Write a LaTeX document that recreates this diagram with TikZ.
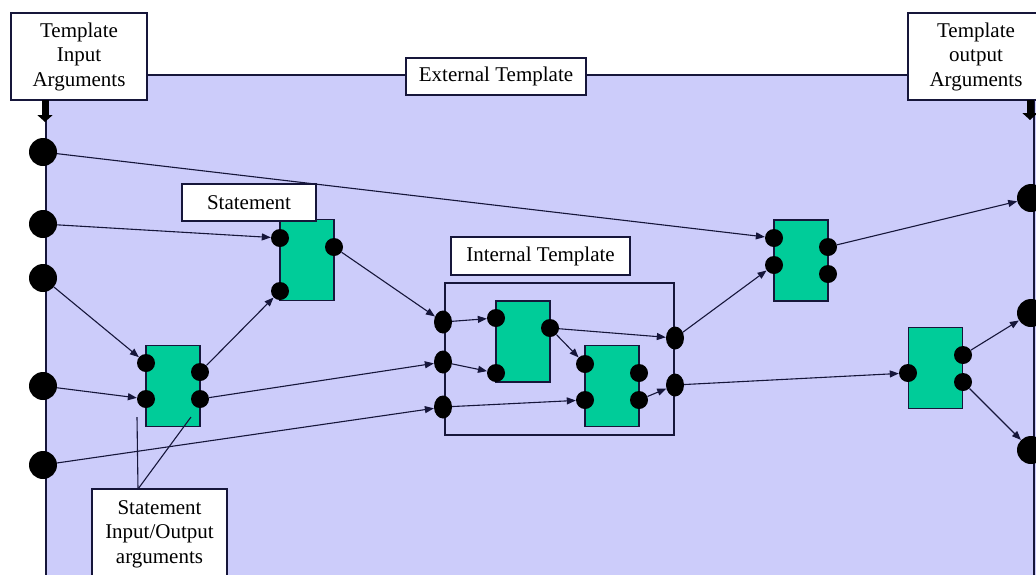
\documentclass[tikz,border=0pt]{standalone}
\usepackage{fontspec}
\setmainfont{Liberation Serif}
\usetikzlibrary{arrows.meta,shapes.geometric}
\definecolor{bgfill}{RGB}{204,204,250}
\definecolor{stmtgreen}{RGB}{0,204,153}
\definecolor{ink}{RGB}{22,22,58}
\tikzset{
  tag/.style={draw=ink, line width=1.2pt, fill=white, align=center,
    font=\fontsize{21}{24.5}\selectfont, inner sep=0pt},
  stmt/.style={draw=ink, line width=1.2pt, fill=stmtgreen, minimum width=54pt,
    minimum height=81pt, inner sep=0pt},
  port/.style={circle, fill=black, draw=none, minimum size=18pt, inner sep=0pt},
  gate/.style={ellipse, fill=black, draw=none, minimum width=18pt, minimum height=23pt, inner sep=0pt},
  bigdot/.style={circle, fill=black, draw=none, minimum size=28pt, inner sep=0pt},
  conn/.style={draw=ink, line width=1.1pt, -{Triangle[length=9pt,width=7pt]}},
  feed/.style={draw=black, line width=7pt, -{Triangle[length=7pt,width=15pt]}},
  callout/.style={draw=ink, line width=1.1pt},
}
\begin{document}
\begin{tikzpicture}[x=1pt,y=-1pt]
\useasboundingbox (0,0) rectangle (1036,574);
\clip (0,0) rectangle (1036,574);

% external template area
\fill[bgfill] (46,75) rectangle (1040,580);
\draw[ink, line width=1.3pt] (46,580) -- (46,75) -- (1034,75) -- (1034,580);

% internal template frame
\draw[ink, line width=1.2pt] (445,283) rectangle (674,435);

% statements
\node[stmt] (s1) at (307,260) {};
\node[stmt] (s2) at (173,386) {};
\node[stmt] (s3) at (523,341.5) {};
\node[stmt] (s4) at (612,386) {};
\node[stmt] (s5) at (801,260.5) {};
\node[stmt] (s6) at (935.5,368) {};

% statement ports
\node[port] (sA) at (280,238) {};
\node[port] (sB) at (280,291) {};
\node[port] (sC) at (334,247) {};
\node[port] (lA) at (146,363) {};
\node[port] (lB) at (146,399) {};
\node[port] (lC) at (200,372) {};
\node[port] (lD) at (200,399) {};
\node[port] (iA) at (496,318) {};
\node[port] (iB) at (496,373) {};
\node[port] (iC) at (550,328) {};
\node[port] (jA) at (585,364) {};
\node[port] (jB) at (585,400) {};
\node[port] (jC) at (639,373) {};
\node[port] (jD) at (639,400) {};
\node[port] (tA) at (774,238) {};
\node[port] (tB) at (774,265) {};
\node[port] (tC) at (828,247) {};
\node[port] (tD) at (828,274) {};
\node[port] (fA) at (908,373) {};
\node[port] (fB) at (963,355) {};
\node[port] (fC) at (963,382) {};

% internal template arguments
\node[gate] (gL1) at (443,322) {};
\node[gate] (gL2) at (443,362) {};
\node[gate] (gL3) at (443,407) {};
\node[gate] (gR1) at (675,338) {};
\node[gate] (gR2) at (675,385) {};

% external template arguments
\node[bigdot] (in1) at (43,152) {};
\node[bigdot] (in2) at (43,224) {};
\node[bigdot] (in3) at (43,278) {};
\node[bigdot] (in4) at (43,386) {};
\node[bigdot] (in5) at (43,465) {};
\node[bigdot] (out1) at (1031,198) {};
\node[bigdot] (out2) at (1031,313) {};
\node[bigdot] (out3) at (1031,450) {};

% data flow
\draw[conn] (in1) -- (tA);
\draw[conn] (in2) -- (sA);
\draw[conn] (in3) -- (lA);
\draw[conn] (in4) -- (lB);
\draw[conn] (in5) -- (gL3);
\draw[conn] (lC) -- (sB);
\draw[conn] (lD) -- (gL2);
\draw[conn] (sC) -- (gL1);
\draw[conn] (gL1) -- (iA);
\draw[conn] (gL2) -- (iB);
\draw[conn] (gL3) -- (jB);
\draw[conn] (iC) -- (jA);
\draw[conn] (iC) -- (gR1);
\draw[conn] (jD) -- (gR2);
\draw[conn] (gR1) -- (tB);
\draw[conn] (gR2) -- (fA);
\draw[conn] (tC) -- (out1);
\draw[conn] (fB) -- (out2);
\draw[conn] (fC) -- (out3);

% labels
\node[tag, minimum width=136pt, minimum height=87pt] (tin) at (79,56.5)
  {Template\\Input\\Arguments};
\node[tag, minimum width=136pt, minimum height=87pt] (tout) at (976,56.5)
  {Template\\output\\Arguments};
\node[tag, minimum width=180pt, minimum height=37pt] (ext) at (496,76.5) {External Template};
\node[tag, minimum width=134pt, minimum height=37pt] (stl) at (249,202.5) {Statement};
\node[tag, minimum width=179pt, minimum height=38pt] (itl) at (540.5,256) {Internal Template};
\node[tag, minimum width=135pt, minimum height=90pt] (sio) at (159.5,534)
  {Statement\\Input/Output\\arguments};

% callout lines to the statement arguments
\coordinate (c1) at (137,417);
\coordinate (c2) at (191,417);
\coordinate (cb) at (138,489);
\draw[callout] (cb) -- (c1);
\draw[callout] (cb) -- (c2);

% argument feeds
\coordinate (fin0) at (45,100);
\coordinate (fin1) at (45,122);
\coordinate (fout0) at (1030,100);
\coordinate (fout1) at (1030,120);
\draw[feed] (fin0) -- (fin1);
\draw[feed] (fout0) -- (fout1);
\end{tikzpicture}
\end{document}
